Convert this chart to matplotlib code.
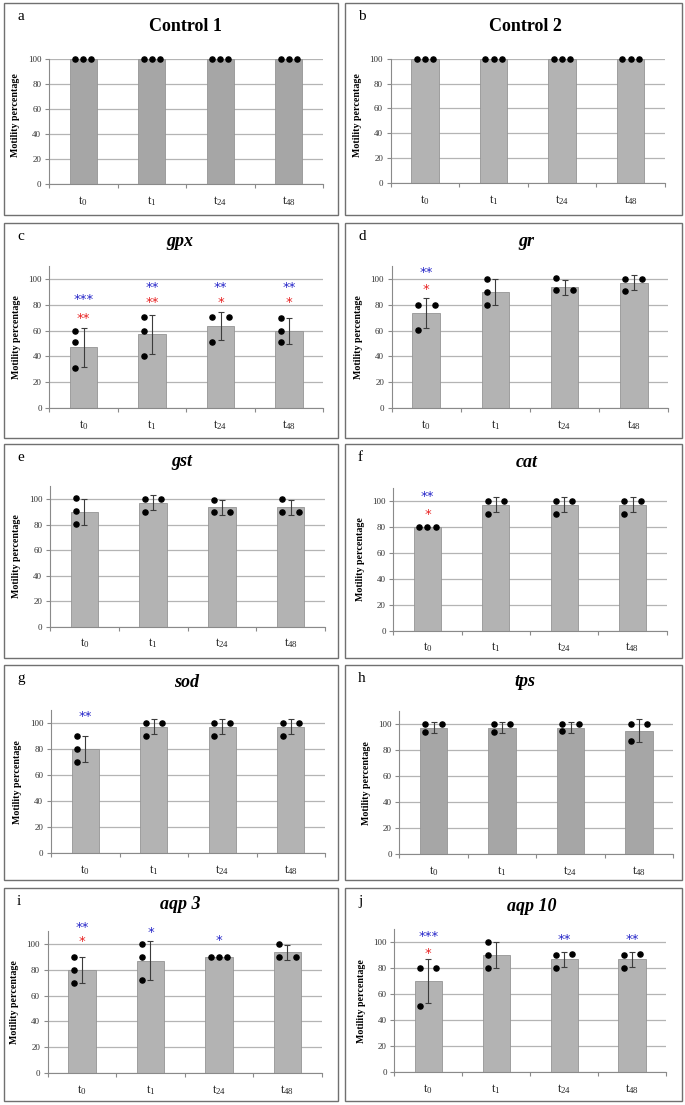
import matplotlib
matplotlib.use('Agg')
import matplotlib.pyplot as plt
from matplotlib.patches import Rectangle
from matplotlib import transforms
import numpy as np

plt.rcParams['font.family'] = ['Liberation Serif', 'DejaVu Serif']
plt.rcParams['mathtext.fontset'] = 'custom'
plt.rcParams['mathtext.rm'] = 'Liberation Serif'
plt.rcParams['mathtext.it'] = 'Liberation Serif:italic'
plt.rcParams['mathtext.bf'] = 'Liberation Serif:bold'

# ---------------- data ----------------
time_points = ['0', '1', '24', '48']
tick_labels = [r'$\mathrm{t}_{%s}$' % t for t in time_points]
y_ticks = [0, 20, 40, 60, 80, 100]
y_label = 'Motility percentage'

panel_letters = ['a', 'b', 'c', 'd', 'e', 'f', 'g', 'h', 'i', 'j']
panel_titles = ['Control 1', 'Control 2', 'gpx', 'gr', 'gst', 'cat', 'sod', 'tps', 'aqp 3', 'aqp 10']

means_control1 = [100, 100, 100, 100]
sd_control1 = [0, 0, 0, 0]
dots_control1 = [[100, 100, 100], [100, 100, 100], [100, 100, 100], [100, 100, 100]]

means_control2 = [100, 100, 100, 100]
sd_control2 = [0, 0, 0, 0]
dots_control2 = [[100, 100, 100], [100, 100, 100], [100, 100, 100], [100, 100, 100]]

means_gpx = [47, 57, 63.5, 60]
sd_gpx = [15, 15, 11, 10]
dots_gpx = [[60, 51, 31], [70.5, 60, 40], [70.5, 51, 70.5], [70, 60, 51]]
blue_gpx = ['***', '**', '**', '**']
blue_y_gpx = [86.5, 96, 96, 96]
red_gpx = ['**', '**', '*', '*']
red_y_gpx = [72.5, 84.5, 84.5, 84.5]

means_gr = [73.5, 90, 93.5, 97]
sd_gr = [11.5, 10, 5.8, 5.8]
dots_gr = [[80, 60.5, 80], [100, 90, 80], [100.5, 91, 91], [100, 90.5, 100]]
blue_gr = ['**', '', '', '']
blue_y_gr = [107.5, None, None, None]
red_gr = ['*', '', '', '']
red_y_gr = [94.5, None, None, None]

means_gst = [90, 97, 93.5, 93.5]
sd_gst = [10, 5.8, 5.8, 5.8]
dots_gst = [[100.5, 90.5, 80.5], [100, 90, 100], [99.5, 89.5, 89.5], [100, 89.5, 89.5]]

means_cat = [80, 97, 97, 97]
sd_cat = [0, 5.8, 5.8, 5.8]
dots_cat = [[80, 80, 80], [100, 90, 100], [100, 90, 100], [100, 90, 100]]
blue_cat = ['**', '', '', '']
blue_y_cat = [106.7, None, None, None]
red_cat = ['*', '', '', '']
red_y_cat = [92.5, None, None, None]

means_sod = [80, 97, 97, 97]
sd_sod = [10, 5.8, 5.8, 5.8]
dots_sod = [[90, 80, 70], [100, 90, 100], [100, 90, 100], [100, 90, 100]]
blue_sod = ['**', '', '', '']
blue_y_sod = [108, None, None, None]

means_tps = [97.5, 97.5, 97.5, 95]
sd_tps = [4.5, 4.5, 4.5, 9]
dots_tps = [[100, 94, 100], [100, 94, 100], [100.5, 94.5, 100.5], [100.5, 87, 100.5]]

means_aqp3 = [80, 87, 90, 93.5]
sd_aqp3 = [10, 15, 0, 5.8]
dots_aqp3 = [[90, 80, 70], [100, 90, 72], [90, 90, 90], [100, 89.5, 89.5]]
blue_aqp3 = ['**', '*', '*', '']
blue_y_aqp3 = [115.5, 111.5, 105.5, None]
red_aqp3 = ['*', '', '', '']
red_y_aqp3 = [104.5, None, None, None]

means_aqp10 = [70, 90, 87, 87]
sd_aqp10 = [17, 10, 5.8, 5.8]
dots_aqp10 = [[80, 51, 80], [100, 90.5, 80], [90.5, 80, 91], [90.5, 80, 91]]
blue_aqp10 = ['***', '', '**', '**']
blue_y_aqp10 = [107.5, None, 105, 105]
red_aqp10 = ['*', '', '', '']
red_y_aqp10 = [94.5, None, None, None]

none4 = ['', '', '', '']
noney = [None, None, None, None]

panel_data = [
    (means_control1, sd_control1, dots_control1, none4, noney, none4, noney),
    (means_control2, sd_control2, dots_control2, none4, noney, none4, noney),
    (means_gpx, sd_gpx, dots_gpx, blue_gpx, blue_y_gpx, red_gpx, red_y_gpx),
    (means_gr, sd_gr, dots_gr, blue_gr, blue_y_gr, red_gr, red_y_gr),
    (means_gst, sd_gst, dots_gst, none4, noney, none4, noney),
    (means_cat, sd_cat, dots_cat, blue_cat, blue_y_cat, red_cat, red_y_cat),
    (means_sod, sd_sod, dots_sod, blue_sod, blue_y_sod, none4, noney),
    (means_tps, sd_tps, dots_tps, none4, noney, none4, noney),
    (means_aqp3, sd_aqp3, dots_aqp3, blue_aqp3, blue_y_aqp3, red_aqp3, red_y_aqp3),
    (means_aqp10, sd_aqp10, dots_aqp10, blue_aqp10, blue_y_aqp10, red_aqp10, red_y_aqp10),
]

# ---------------- layout (pixels) ----------------
W, H, DPI = 685, 1105, 100
layout = [
    # box(l,t,r,b), axes(l, r, y0px, y100px), ymax, title_x, title_baseline
    ((4, 3, 338, 215), (49, 323, 184, 59), 100, 185, 31),
    ((345, 3, 682, 215), (390.7, 665, 183, 58.7), 100, 525, 31),
    ((4, 223, 338, 438), (49.3, 323.3, 408.3, 278.7), 110, 180, 246),
    ((345, 223, 682, 438), (391.7, 668.3, 408.3, 278.7), 110, 526.7, 246),
    ((4, 444, 338, 658), (50, 325, 626.7, 499), 110, 181.7, 466),
    ((345, 444, 682, 658), (393.3, 666.7, 630.7, 501), 110, 526.7, 467),
    ((4, 665, 338, 880), (51, 325, 853.3, 723), 110, 186.7, 687),
    ((345, 665, 682, 880), (399.3, 673.3, 854, 724.3), 110, 525, 686),
    ((4, 888, 338, 1101), (47.7, 321.7, 1073.3, 943.7), 110, 180, 909),
    ((345, 888, 682, 1101), (394.3, 666, 1072, 942.3), 110, 531.7, 911),
]
bar_colors = ['#a6a6a6', '#b3b3b3', '#b3b3b3', '#b3b3b3', '#b3b3b3',
              '#b3b3b3', '#b3b3b3', '#a6a6a6', '#b3b3b3', '#b3b3b3']
BLUE = '#2424c8'
RED = '#e82020'
GRAY = '#8a8a8a'

fig = plt.figure(figsize=(W / DPI, H / DPI), dpi=DPI)
fig.patch.set_facecolor('white')


def dot_offsets(vals, step=0.12, tol=5.0):
    cols = [-step, step, 0.0]
    placed = []
    offs = []
    for v in vals:
        for c in cols:
            if all(not (abs(pc - c) < 1e-9 and abs(pv - v) < tol) for pc, pv in placed):
                placed.append((c, v))
                offs.append(c)
                break
    return offs


for k in range(10):
    (bl, bt, br, bb), (axl, axr, y0, y100), ymax, tx, tb = layout[k]
    means, sds, dots, blue, blue_y, red, red_y = panel_data[k]

    fig.add_artist(Rectangle((bl / W, 1 - bb / H), (br - bl) / W, (bb - bt) / H,
                             transform=fig.transFigure, fill=False,
                             edgecolor='#707070', linewidth=1.0))

    ppu = (y0 - y100) / 100.0
    top = y0 - ppu * ymax
    ax = fig.add_axes([axl / W, 1 - y0 / H, (axr - axl) / W, (y0 - top) / H])
    x = np.arange(len(means))
    ax.set_xlim(-0.5, len(means) - 0.5)
    ax.set_ylim(0, ymax)
    ax.set_axisbelow(True)
    ax.yaxis.grid(True, color='#b4b4b4', linewidth=0.9)
    ax.bar(x, means, width=0.4, color=bar_colors[k], edgecolor='#959595',
           linewidth=0.6, zorder=2)
    sd_arr = np.array(sds, dtype=float)
    mask = sd_arr > 0
    if mask.any():
        ax.errorbar(x[mask], np.array(means)[mask], yerr=sd_arr[mask], fmt='none',
                    ecolor='#3c3c3c', elinewidth=0.8, capsize=2.0, capthick=0.8,
                    zorder=3)
    for i, vals in enumerate(dots):
        offs = dot_offsets(vals)
        ax.plot(i + np.array(offs), vals, 'o', color='black', ms=3.7,
                zorder=4, clip_on=False)

    fs_star = 9.5
    star_tr = transforms.offset_copy(ax.transData, fig=fig, x=0,
                                     y=-0.55 * fs_star, units='points')
    for i in range(len(means)):
        if blue[i]:
            ax.text(i, blue_y[i], blue[i], color=BLUE, ha='center', va='baseline',
                    fontsize=fs_star, family='DejaVu Sans', transform=star_tr,
                    clip_on=False)
        if red[i]:
            ax.text(i, red_y[i], red[i], color=RED, ha='center', va='baseline',
                    fontsize=fs_star, family='DejaVu Sans', transform=star_tr,
                    clip_on=False)

    ax.set_yticks(y_ticks)
    ax.set_yticklabels([str(t) for t in y_ticks])
    ax.set_xticks(x)
    ax.set_xticklabels(tick_labels)
    ax.set_xticks(np.arange(-0.5, len(means), 1.0), minor=True)
    ax.tick_params(axis='y', direction='out', length=3, width=0.8, color=GRAY,
                   labelsize=6.5, labelcolor='#333333', pad=2.5)
    ax.tick_params(axis='x', which='major', length=0, labelsize=9,
                   labelcolor='#222222', pad=7)
    ax.tick_params(axis='x', which='minor', direction='out', length=3,
                   width=0.8, color=GRAY)
    for s in ['top', 'right']:
        ax.spines[s].set_visible(False)
    for s in ['left', 'bottom']:
        ax.spines[s].set_color(GRAY)
        ax.spines[s].set_linewidth(0.8)

    italic = k >= 2
    fig.text(tx / W, 1 - tb / H, panel_titles[k], ha='center', va='baseline',
             fontsize=13, fontweight='bold',
             fontstyle='italic' if italic else 'normal')
    fig.text((bl + 13) / W, 1 - (bt + 17) / H, panel_letters[k], ha='left',
             va='baseline', fontsize=11)
    fig.text((axl - 33) / W, 1 - (y0 - (y0 - y100) * 0.55) / H, y_label,
             rotation=90, ha='center', va='center', fontsize=7.2,
             fontweight='bold')

fig.savefig('out.png', dpi=DPI, facecolor='white')
